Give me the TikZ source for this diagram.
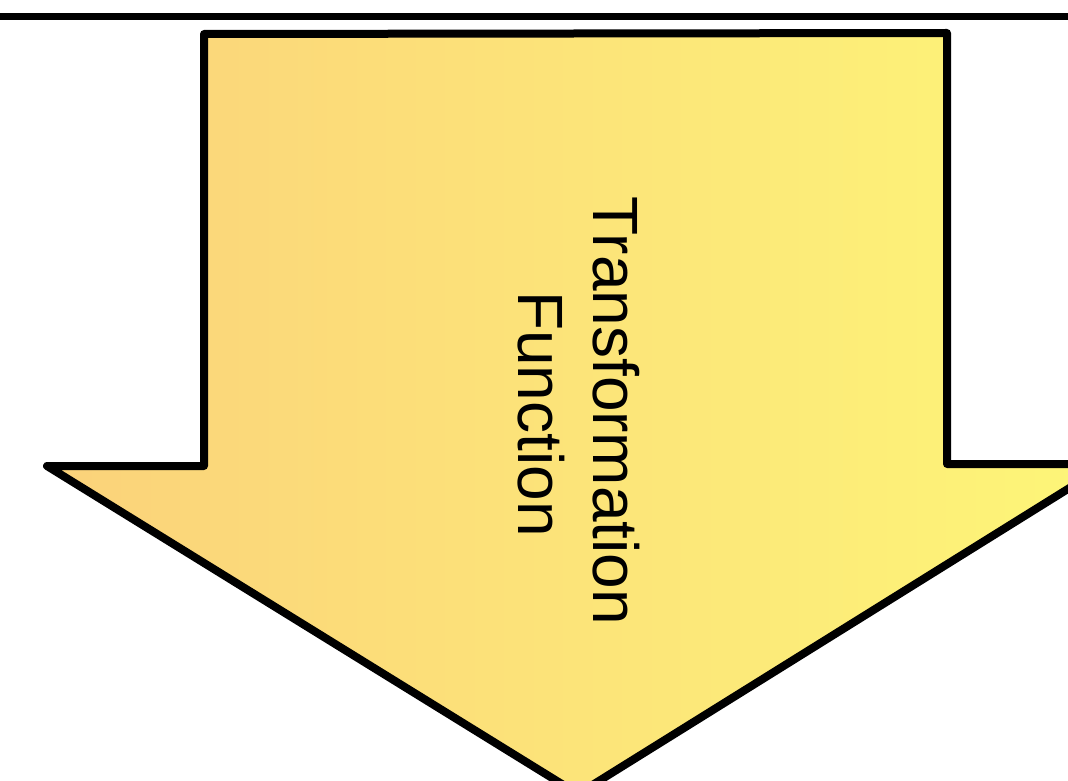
\documentclass[tikz,border=0pt]{standalone}
\usepackage{fontspec}
\setmainfont{Liberation Sans}
\definecolor{arrowleft}{RGB}{251,210,122}
\definecolor{arrowright}{RGB}{253,246,120}
\tikzset{
  bigarrow/.style={draw=black, line width=6pt, line join=round, left color=arrowleft, right color=arrowright},
  rule/.style={draw=black, line width=5.25pt},
  label/.style={rotate=-90, anchor=base, inner sep=0pt, font=\fontsize{48}{56}\selectfont}
}
\begin{document}
\begin{tikzpicture}[x=0.75pt, y=-0.75pt]
\useasboundingbox (0,0) rectangle (1068,781);
\clip (0,0) rectangle (1068,781);
\fill[white] (0,0) rectangle (1068,781);
\coordinate (L0) at (-10,17);
\coordinate (L1) at (1080,17);
\draw[rule] (L0) -- (L1);
\path[bigarrow] (204,34) -- (947,33) -- (947,464) -- (1108,464) -- (578,794) -- (47,466) -- (204,466) -- cycle;
\node[label] (t1) at (593,411) {Transformation};
\node[label] (t2) at (518,414) {Function};
\end{tikzpicture}
\end{document}
